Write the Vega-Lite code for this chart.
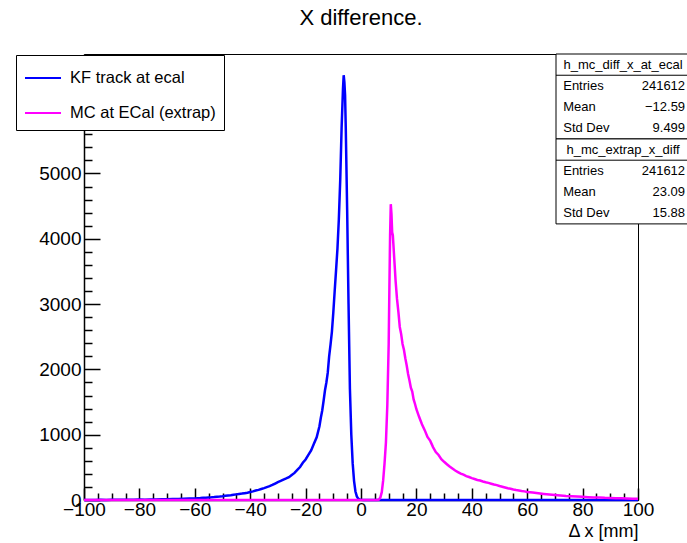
{
  "$schema": "https://vega.github.io/schema/vega-lite/v6.json",
  "width": 554,
  "height": 446,
  "autosize": {"type": "none"},
  "padding": {"left": 84, "top": 54, "right": 49, "bottom": 43},
  "background": "white",
  "config": {"view": {"stroke": "black", "strokeWidth": 1}, "font": "Liberation Sans"},
  "title": {"text": "X difference.", "fontSize": 22, "fontWeight": "normal", "font": "Liberation Sans", "color": "black", "anchor": "middle", "frame": "group", "offset": 0, "baseline": "alphabetic"},
  "datasets": {
    "hist": [
      {"dx": -100, "count": 0, "s": "KF track at ecal"},
      {"dx": -98, "count": 1, "s": "KF track at ecal"},
      {"dx": -96, "count": 0, "s": "KF track at ecal"},
      {"dx": -94, "count": 2, "s": "KF track at ecal"},
      {"dx": -92, "count": 1, "s": "KF track at ecal"},
      {"dx": -90, "count": 3, "s": "KF track at ecal"},
      {"dx": -88, "count": 2, "s": "KF track at ecal"},
      {"dx": -86, "count": 4, "s": "KF track at ecal"},
      {"dx": -84, "count": 3, "s": "KF track at ecal"},
      {"dx": -82, "count": 5, "s": "KF track at ecal"},
      {"dx": -80, "count": 6, "s": "KF track at ecal"},
      {"dx": -78, "count": 5, "s": "KF track at ecal"},
      {"dx": -76, "count": 8, "s": "KF track at ecal"},
      {"dx": -74, "count": 9, "s": "KF track at ecal"},
      {"dx": -72, "count": 11, "s": "KF track at ecal"},
      {"dx": -70, "count": 12, "s": "KF track at ecal"},
      {"dx": -68, "count": 14, "s": "KF track at ecal"},
      {"dx": -66, "count": 15, "s": "KF track at ecal"},
      {"dx": -64, "count": 19, "s": "KF track at ecal"},
      {"dx": -62, "count": 22, "s": "KF track at ecal"},
      {"dx": -60, "count": 24, "s": "KF track at ecal"},
      {"dx": -59, "count": 27, "s": "KF track at ecal"},
      {"dx": -58, "count": 29, "s": "KF track at ecal"},
      {"dx": -57, "count": 33, "s": "KF track at ecal"},
      {"dx": -56, "count": 35, "s": "KF track at ecal"},
      {"dx": -55, "count": 38, "s": "KF track at ecal"},
      {"dx": -54, "count": 41, "s": "KF track at ecal"},
      {"dx": -53, "count": 45, "s": "KF track at ecal"},
      {"dx": -52, "count": 50, "s": "KF track at ecal"},
      {"dx": -51, "count": 53, "s": "KF track at ecal"},
      {"dx": -50, "count": 58, "s": "KF track at ecal"},
      {"dx": -49, "count": 64, "s": "KF track at ecal"},
      {"dx": -48, "count": 68, "s": "KF track at ecal"},
      {"dx": -47, "count": 72, "s": "KF track at ecal"},
      {"dx": -46, "count": 79, "s": "KF track at ecal"},
      {"dx": -45, "count": 86, "s": "KF track at ecal"},
      {"dx": -44, "count": 92, "s": "KF track at ecal"},
      {"dx": -43, "count": 98, "s": "KF track at ecal"},
      {"dx": -42, "count": 105, "s": "KF track at ecal"},
      {"dx": -41, "count": 112, "s": "KF track at ecal"},
      {"dx": -40, "count": 122, "s": "KF track at ecal"},
      {"dx": -39, "count": 132, "s": "KF track at ecal"},
      {"dx": -38, "count": 145, "s": "KF track at ecal"},
      {"dx": -37, "count": 155, "s": "KF track at ecal"},
      {"dx": -36, "count": 168, "s": "KF track at ecal"},
      {"dx": -35, "count": 182, "s": "KF track at ecal"},
      {"dx": -34, "count": 198, "s": "KF track at ecal"},
      {"dx": -33, "count": 212, "s": "KF track at ecal"},
      {"dx": -32, "count": 230, "s": "KF track at ecal"},
      {"dx": -31, "count": 252, "s": "KF track at ecal"},
      {"dx": -30, "count": 275, "s": "KF track at ecal"},
      {"dx": -29, "count": 292, "s": "KF track at ecal"},
      {"dx": -28, "count": 312, "s": "KF track at ecal"},
      {"dx": -27, "count": 330, "s": "KF track at ecal"},
      {"dx": -26, "count": 350, "s": "KF track at ecal"},
      {"dx": -25, "count": 382, "s": "KF track at ecal"},
      {"dx": -24, "count": 415, "s": "KF track at ecal"},
      {"dx": -23, "count": 460, "s": "KF track at ecal"},
      {"dx": -22, "count": 505, "s": "KF track at ecal"},
      {"dx": -21, "count": 570, "s": "KF track at ecal"},
      {"dx": -20, "count": 620, "s": "KF track at ecal"},
      {"dx": -19, "count": 690, "s": "KF track at ecal"},
      {"dx": -18, "count": 760, "s": "KF track at ecal"},
      {"dx": -17, "count": 860, "s": "KF track at ecal"},
      {"dx": -16, "count": 960, "s": "KF track at ecal"},
      {"dx": -15, "count": 1130, "s": "KF track at ecal"},
      {"dx": -14.5, "count": 1260, "s": "KF track at ecal"},
      {"dx": -14, "count": 1370, "s": "KF track at ecal"},
      {"dx": -13.5, "count": 1520, "s": "KF track at ecal"},
      {"dx": -13, "count": 1680, "s": "KF track at ecal"},
      {"dx": -12.5, "count": 1800, "s": "KF track at ecal"},
      {"dx": -12, "count": 1950, "s": "KF track at ecal"},
      {"dx": -11.5, "count": 2200, "s": "KF track at ecal"},
      {"dx": -11, "count": 2380, "s": "KF track at ecal"},
      {"dx": -10.5, "count": 2580, "s": "KF track at ecal"},
      {"dx": -10, "count": 2870, "s": "KF track at ecal"},
      {"dx": -9.5, "count": 3200, "s": "KF track at ecal"},
      {"dx": -9, "count": 3520, "s": "KF track at ecal"},
      {"dx": -8.5, "count": 3850, "s": "KF track at ecal"},
      {"dx": -8, "count": 4300, "s": "KF track at ecal"},
      {"dx": -7.5, "count": 4900, "s": "KF track at ecal"},
      {"dx": -7, "count": 5700, "s": "KF track at ecal"},
      {"dx": -6.5, "count": 6300, "s": "KF track at ecal"},
      {"dx": -6.25, "count": 6505, "s": "KF track at ecal"},
      {"dx": -6, "count": 6400, "s": "KF track at ecal"},
      {"dx": -5.75, "count": 6200, "s": "KF track at ecal"},
      {"dx": -5.5, "count": 5700, "s": "KF track at ecal"},
      {"dx": -5, "count": 4450, "s": "KF track at ecal"},
      {"dx": -4.5, "count": 3000, "s": "KF track at ecal"},
      {"dx": -4, "count": 1700, "s": "KF track at ecal"},
      {"dx": -3.5, "count": 1000, "s": "KF track at ecal"},
      {"dx": -3, "count": 560, "s": "KF track at ecal"},
      {"dx": -2.5, "count": 290, "s": "KF track at ecal"},
      {"dx": -2, "count": 130, "s": "KF track at ecal"},
      {"dx": -1.5, "count": 55, "s": "KF track at ecal"},
      {"dx": -1, "count": 22, "s": "KF track at ecal"},
      {"dx": -0.5, "count": 8, "s": "KF track at ecal"},
      {"dx": 0, "count": 3, "s": "KF track at ecal"},
      {"dx": 1, "count": 0, "s": "KF track at ecal"},
      {"dx": 100, "count": 0, "s": "KF track at ecal"},
      {"dx": -100, "count": 0, "s": "MC at ECal (extrap)"},
      {"dx": 6, "count": 0, "s": "MC at ECal (extrap)"},
      {"dx": 6.5, "count": 8, "s": "MC at ECal (extrap)"},
      {"dx": 7, "count": 40, "s": "MC at ECal (extrap)"},
      {"dx": 7.5, "count": 120, "s": "MC at ECal (extrap)"},
      {"dx": 8, "count": 300, "s": "MC at ECal (extrap)"},
      {"dx": 8.5, "count": 560, "s": "MC at ECal (extrap)"},
      {"dx": 9, "count": 880, "s": "MC at ECal (extrap)"},
      {"dx": 9.5, "count": 1450, "s": "MC at ECal (extrap)"},
      {"dx": 10, "count": 2400, "s": "MC at ECal (extrap)"},
      {"dx": 10.25, "count": 3250, "s": "MC at ECal (extrap)"},
      {"dx": 10.5, "count": 4050, "s": "MC at ECal (extrap)"},
      {"dx": 10.75, "count": 4530, "s": "MC at ECal (extrap)"},
      {"dx": 11, "count": 4380, "s": "MC at ECal (extrap)"},
      {"dx": 11.25, "count": 4100, "s": "MC at ECal (extrap)"},
      {"dx": 11.5, "count": 4050, "s": "MC at ECal (extrap)"},
      {"dx": 12, "count": 3700, "s": "MC at ECal (extrap)"},
      {"dx": 12.5, "count": 3350, "s": "MC at ECal (extrap)"},
      {"dx": 13, "count": 3080, "s": "MC at ECal (extrap)"},
      {"dx": 13.5, "count": 2880, "s": "MC at ECal (extrap)"},
      {"dx": 14, "count": 2650, "s": "MC at ECal (extrap)"},
      {"dx": 14.5, "count": 2540, "s": "MC at ECal (extrap)"},
      {"dx": 15, "count": 2390, "s": "MC at ECal (extrap)"},
      {"dx": 15.5, "count": 2300, "s": "MC at ECal (extrap)"},
      {"dx": 16, "count": 2170, "s": "MC at ECal (extrap)"},
      {"dx": 16.5, "count": 2060, "s": "MC at ECal (extrap)"},
      {"dx": 17, "count": 1930, "s": "MC at ECal (extrap)"},
      {"dx": 17.5, "count": 1830, "s": "MC at ECal (extrap)"},
      {"dx": 18, "count": 1720, "s": "MC at ECal (extrap)"},
      {"dx": 18.5, "count": 1660, "s": "MC at ECal (extrap)"},
      {"dx": 19, "count": 1540, "s": "MC at ECal (extrap)"},
      {"dx": 19.5, "count": 1470, "s": "MC at ECal (extrap)"},
      {"dx": 20, "count": 1390, "s": "MC at ECal (extrap)"},
      {"dx": 20.5, "count": 1330, "s": "MC at ECal (extrap)"},
      {"dx": 21, "count": 1270, "s": "MC at ECal (extrap)"},
      {"dx": 22, "count": 1160, "s": "MC at ECal (extrap)"},
      {"dx": 23, "count": 1070, "s": "MC at ECal (extrap)"},
      {"dx": 24, "count": 965, "s": "MC at ECal (extrap)"},
      {"dx": 25, "count": 905, "s": "MC at ECal (extrap)"},
      {"dx": 26, "count": 810, "s": "MC at ECal (extrap)"},
      {"dx": 27, "count": 735, "s": "MC at ECal (extrap)"},
      {"dx": 28, "count": 690, "s": "MC at ECal (extrap)"},
      {"dx": 29, "count": 625, "s": "MC at ECal (extrap)"},
      {"dx": 30, "count": 585, "s": "MC at ECal (extrap)"},
      {"dx": 31, "count": 548, "s": "MC at ECal (extrap)"},
      {"dx": 32, "count": 512, "s": "MC at ECal (extrap)"},
      {"dx": 33, "count": 482, "s": "MC at ECal (extrap)"},
      {"dx": 34, "count": 452, "s": "MC at ECal (extrap)"},
      {"dx": 35, "count": 428, "s": "MC at ECal (extrap)"},
      {"dx": 36, "count": 404, "s": "MC at ECal (extrap)"},
      {"dx": 37, "count": 388, "s": "MC at ECal (extrap)"},
      {"dx": 38, "count": 366, "s": "MC at ECal (extrap)"},
      {"dx": 39, "count": 352, "s": "MC at ECal (extrap)"},
      {"dx": 40, "count": 334, "s": "MC at ECal (extrap)"},
      {"dx": 41, "count": 322, "s": "MC at ECal (extrap)"},
      {"dx": 42, "count": 306, "s": "MC at ECal (extrap)"},
      {"dx": 43, "count": 298, "s": "MC at ECal (extrap)"},
      {"dx": 44, "count": 284, "s": "MC at ECal (extrap)"},
      {"dx": 45, "count": 272, "s": "MC at ECal (extrap)"},
      {"dx": 46, "count": 262, "s": "MC at ECal (extrap)"},
      {"dx": 47, "count": 250, "s": "MC at ECal (extrap)"},
      {"dx": 48, "count": 238, "s": "MC at ECal (extrap)"},
      {"dx": 49, "count": 228, "s": "MC at ECal (extrap)"},
      {"dx": 50, "count": 214, "s": "MC at ECal (extrap)"},
      {"dx": 51, "count": 204, "s": "MC at ECal (extrap)"},
      {"dx": 52, "count": 192, "s": "MC at ECal (extrap)"},
      {"dx": 53, "count": 180, "s": "MC at ECal (extrap)"},
      {"dx": 54, "count": 172, "s": "MC at ECal (extrap)"},
      {"dx": 55, "count": 160, "s": "MC at ECal (extrap)"},
      {"dx": 56, "count": 152, "s": "MC at ECal (extrap)"},
      {"dx": 57, "count": 146, "s": "MC at ECal (extrap)"},
      {"dx": 58, "count": 138, "s": "MC at ECal (extrap)"},
      {"dx": 59, "count": 132, "s": "MC at ECal (extrap)"},
      {"dx": 60, "count": 124, "s": "MC at ECal (extrap)"},
      {"dx": 62, "count": 114, "s": "MC at ECal (extrap)"},
      {"dx": 64, "count": 103, "s": "MC at ECal (extrap)"},
      {"dx": 66, "count": 93, "s": "MC at ECal (extrap)"},
      {"dx": 68, "count": 84, "s": "MC at ECal (extrap)"},
      {"dx": 70, "count": 76, "s": "MC at ECal (extrap)"},
      {"dx": 72, "count": 69, "s": "MC at ECal (extrap)"},
      {"dx": 74, "count": 62, "s": "MC at ECal (extrap)"},
      {"dx": 76, "count": 57, "s": "MC at ECal (extrap)"},
      {"dx": 78, "count": 52, "s": "MC at ECal (extrap)"},
      {"dx": 80, "count": 48, "s": "MC at ECal (extrap)"},
      {"dx": 82, "count": 44, "s": "MC at ECal (extrap)"},
      {"dx": 84, "count": 40, "s": "MC at ECal (extrap)"},
      {"dx": 86, "count": 37, "s": "MC at ECal (extrap)"},
      {"dx": 88, "count": 33, "s": "MC at ECal (extrap)"},
      {"dx": 90, "count": 31, "s": "MC at ECal (extrap)"},
      {"dx": 92, "count": 28, "s": "MC at ECal (extrap)"},
      {"dx": 94, "count": 25, "s": "MC at ECal (extrap)"},
      {"dx": 96, "count": 23, "s": "MC at ECal (extrap)"},
      {"dx": 98, "count": 21, "s": "MC at ECal (extrap)"},
      {"dx": 100, "count": 19, "s": "MC at ECal (extrap)"}
    ],
    "stats": [
      {"line": 1, "name": "h_mc_diff_x_at_ecal", "value": ""},
      {"line": 2, "name": "Entries", "value": "241612"},
      {"line": 3, "name": "Mean", "value": "−12.59"},
      {"line": 4, "name": "Std Dev", "value": "9.499"},
      {"line": 5, "name": "h_mc_extrap_x_diff", "value": ""},
      {"line": 6, "name": "Entries", "value": "241612"},
      {"line": 7, "name": "Mean", "value": "23.09"},
      {"line": 8, "name": "Std Dev", "value": "15.88"}
    ]
  },
  "layer": [
    {
      "data": {"name": "hist"},
      "mark": {"type": "line", "strokeWidth": 2.5, "interpolate": "linear"},
      "encoding": {
        "x": {
          "field": "dx", "type": "quantitative",
          "scale": {"domain": [-100, 100], "nice": false, "zero": false},
          "axis": {
            "values": [-100, -95, -90, -85, -80, -75, -70, -65, -60, -55, -50, -45, -40, -35, -30, -25, -20, -15, -10, -5, 0, 5, 10, 15, 20, 25, 30, 35, 40, 45, 50, 55, 60, 65, 70, 75, 80, 85, 90, 95, 100],
            "labelExpr": "datum.value % 20 === 0 ? datum.label : ''",
            "tickSize": {"condition": {"test": "datum.value % 20 === 0", "value": -12}, "value": -7},
            "labelPadding": 12.5,
            "labelFontSize": 19, "labelFont": "Liberation Sans", "labelColor": "black",
            "labelFlush": false, "labelOverlap": false, "labelBound": false,
            "domainColor": "black", "domainWidth": 1.5, "tickColor": "black", "tickWidth": 1.5, "grid": false,
            "title": "Δ x [mm]", "titleFontSize": 18, "titleFont": "Liberation Sans", "titleFontWeight": "normal", "titleColor": "black",
            "titleAnchor": "end", "titleAlign": "right", "titleY": 36, "titleBaseline": "alphabetic"
          }
        },
        "y": {
          "field": "count", "type": "quantitative",
          "scale": {"domain": [0, 6830], "nice": false},
          "axis": {
            "values": [0, 200, 400, 600, 800, 1000, 1200, 1400, 1600, 1800, 2000, 2200, 2400, 2600, 2800, 3000, 3200, 3400, 3600, 3800, 4000, 4200, 4400, 4600, 4800, 5000, 5200, 5400, 5600, 5800, 6000, 6200, 6400, 6600, 6800],
            "labelExpr": "datum.value % 1000 === 0 ? format(datum.value, 'd') : ''",
            "tickSize": {"condition": {"test": "datum.value % 1000 === 0", "value": -16}, "value": -8},
            "labelPadding": 19,
            "labelFontSize": 19, "labelFont": "Liberation Sans", "labelColor": "black",
            "labelFlush": false, "labelOverlap": false, "labelBound": false,
            "domainColor": "black", "domainWidth": 1.5, "tickColor": "black", "tickWidth": 1.5, "grid": false,
            "title": null
          }
        },
        "color": {
          "field": "s", "type": "nominal",
          "scale": {"domain": ["KF track at ecal", "MC at ECal (extrap)"], "range": ["#0000ff", "#ff00ff"]},
          "legend": {
            "orient": "none", "legendX": -68, "legendY": 1, "title": null, "direction": "vertical",
            "fillColor": "white", "strokeColor": "black", "padding": 8, "cornerRadius": 0,
            "symbolType": "M-1.286,0H1.286", "symbolSize": 784, "symbolStrokeWidth": 2, "symbolOffset": 4,
            "labelOffset": 12, "labelFontSize": 16.5, "labelFont": "Liberation Sans", "labelColor": "black",
            "rowPadding": 11, "labelLimit": 300
          }
        }
      }
    },
    {
      "layer": [
        {
          "data": {"values": [{}]},
          "mark": {"type": "rect", "fill": "white", "stroke": "black", "strokeWidth": 1},
          "encoding": {
            "x": {"datum": 70.4, "type": "quantitative", "scale": {"domain": [-100, 100], "nice": false, "zero": false}, "axis": null},
            "x2": {"datum": 119},
            "y": {"datum": 0.5, "type": "quantitative", "scale": {"domain": [0.5, 21.5], "reverse": true, "nice": false, "zero": false}, "axis": null},
            "y2": {"datum": 4.5}
          }
        },
        {
          "data": {"values": [{}]},
          "mark": {"type": "rect", "fill": "white", "stroke": "black", "strokeWidth": 1},
          "encoding": {
            "x": {"datum": 70.4, "type": "quantitative", "scale": {"domain": [-100, 100], "nice": false, "zero": false}, "axis": null},
            "x2": {"datum": 119},
            "y": {"datum": 4.5, "type": "quantitative", "scale": {"domain": [0.5, 21.5], "reverse": true, "nice": false, "zero": false}, "axis": null},
            "y2": {"datum": 8.5}
          }
        },
        {
          "data": {"values": [{}]},
          "mark": {"type": "rule", "color": "black", "strokeWidth": 1},
          "encoding": {
            "x": {"datum": 70.4, "type": "quantitative", "scale": {"domain": [-100, 100], "nice": false, "zero": false}, "axis": null},
            "x2": {"datum": 119},
            "y": {"datum": 1.5, "type": "quantitative", "scale": {"domain": [0.5, 21.5], "reverse": true, "nice": false, "zero": false}, "axis": null}
          }
        },
        {
          "data": {"values": [{}]},
          "mark": {"type": "rule", "color": "black", "strokeWidth": 1},
          "encoding": {
            "x": {"datum": 70.4, "type": "quantitative", "scale": {"domain": [-100, 100], "nice": false, "zero": false}, "axis": null},
            "x2": {"datum": 119},
            "y": {"datum": 5.5, "type": "quantitative", "scale": {"domain": [0.5, 21.5], "reverse": true, "nice": false, "zero": false}, "axis": null}
          }
        },
        {
          "data": {"name": "stats"},
          "transform": [{"filter": "datum.value === ''"}],
          "mark": {"type": "text", "align": "center", "baseline": "middle", "fontSize": 13, "font": "Liberation Sans", "color": "black"},
          "encoding": {
            "x": {"datum": 94.6, "type": "quantitative", "scale": {"domain": [-100, 100], "nice": false, "zero": false}, "axis": null},
            "y": {"field": "line", "type": "quantitative", "scale": {"domain": [0.5, 21.5], "reverse": true, "nice": false, "zero": false}, "axis": null},
            "text": {"field": "name"}
          }
        },
        {
          "data": {"name": "stats"},
          "transform": [{"filter": "datum.value !== ''"}],
          "mark": {"type": "text", "align": "left", "baseline": "middle", "fontSize": 13, "font": "Liberation Sans", "color": "black"},
          "encoding": {
            "x": {"datum": 73, "type": "quantitative", "scale": {"domain": [-100, 100], "nice": false, "zero": false}, "axis": null},
            "y": {"field": "line", "type": "quantitative", "scale": {"domain": [0.5, 21.5], "reverse": true, "nice": false, "zero": false}, "axis": null},
            "text": {"field": "name"}
          }
        },
        {
          "data": {"name": "stats"},
          "transform": [{"filter": "datum.value !== ''"}],
          "mark": {"type": "text", "align": "right", "baseline": "middle", "fontSize": 13, "font": "Liberation Sans", "color": "black"},
          "encoding": {
            "x": {"datum": 117, "type": "quantitative", "scale": {"domain": [-100, 100], "nice": false, "zero": false}, "axis": null},
            "y": {"field": "line", "type": "quantitative", "scale": {"domain": [0.5, 21.5], "reverse": true, "nice": false, "zero": false}, "axis": null},
            "text": {"field": "value"}
          }
        }
      ]
    }
  ],
  "resolve": {"scale": {"x": "independent", "y": "independent"}, "axis": {"x": "independent", "y": "independent"}}
}
